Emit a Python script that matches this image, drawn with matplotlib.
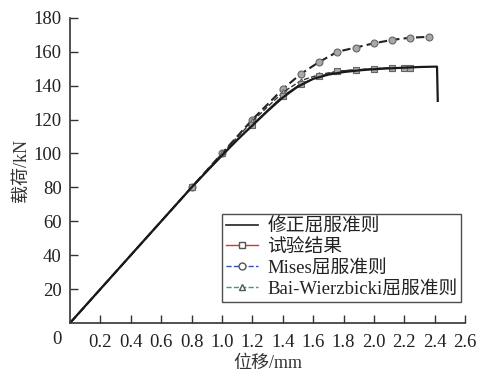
import matplotlib
matplotlib.use("Agg")
import matplotlib.pyplot as plt
from matplotlib.lines import Line2D

plt.rcParams['font.family'] = ['Liberation Serif', 'Noto Sans CJK SC']

# 修正屈服准则 (solid)
x_fit = [0, 0.8, 1.0, 1.1, 1.2, 1.3, 1.4, 1.5, 1.6, 1.7, 1.8, 1.9, 2.0, 2.1, 2.2, 2.3, 2.4, 2.415, 2.42]
y_fit = [0, 80, 99, 108, 116.5, 125, 133, 139.5, 144, 146.5, 148, 149, 149.7, 150.2, 150.6, 151, 151.2, 151.2, 131]

# 试验结果 (squares)
x_test = [0, 0.8, 1.2, 1.4, 1.52, 1.64, 1.76, 1.88, 2.0, 2.12, 2.2, 2.24]
y_test = [0, 80, 117, 134, 141, 145.5, 148.5, 149.3, 150, 150.5, 150.5, 150.5]

# Mises屈服准则 (circles)
x_mises = [0, 0.8, 1.0, 1.2, 1.4, 1.52, 1.64, 1.76, 1.88, 2.0, 2.12, 2.24, 2.36]
y_mises = [0, 80, 100, 120, 138, 147, 154, 160, 162.5, 165, 167, 168.3, 168.8]

# Bai-Wierzbicki屈服准则 (triangles)
x_bw = [0, 0.8, 1.0, 1.2, 1.4, 1.52, 1.64, 1.76, 1.88, 2.0, 2.12, 2.24]
y_bw = [0, 80, 100, 119, 136, 143, 146.5, 148.5, 149.3, 150, 150.5, 150.5]

labels = ['修正屈服准则', '试验结果', 'Mises屈服准则', 'Bai-Wierzbicki屈服准则']
xticks = [0.2, 0.4, 0.6, 0.8, 1.0, 1.2, 1.4, 1.6, 1.8, 2.0, 2.2, 2.4, 2.6]
yticks = [20, 40, 60, 80, 100, 120, 140, 160, 180]

fig = plt.figure(figsize=(4.8, 3.72), dpi=100)
ax = fig.add_axes([0.146, 0.132, 0.823, 0.820])

mk = dict(markersize=5, markerfacecolor='#a8a8a8', markeredgecolor='#666666', markeredgewidth=0.8)
ax.plot(x_mises, y_mises, '--', color='#222222', lw=1.5, dashes=(4, 2), marker='o',
        markevery=list(range(1, len(x_mises))), **mk)
ax.plot(x_bw, y_bw, '--', color='#333333', lw=1.0, marker='^', markevery=list(range(1, len(x_bw))), **mk)
ax.plot(x_test, y_test, '-', color='#333333', lw=1.0, marker='s', markevery=list(range(1, len(x_test))), **mk)
ax.plot(x_fit, y_fit, '-', color='#1a1a1a', lw=1.6)

ax.set_xlim(0, 2.6)
ax.set_ylim(0, 180)
ax.set_xticks(xticks)
ax.set_yticks(yticks)
ax.set_xticklabels(['%.1f' % v for v in xticks])
ax.set_yticklabels([str(v) for v in yticks])
for s in ['top', 'right']:
    ax.spines[s].set_visible(False)
for s in ['left', 'bottom']:
    ax.spines[s].set_linewidth(1.2)
    ax.spines[s].set_color('#333333')
ax.tick_params(direction='in', length=6, width=1, colors='#333333', labelsize=13.5, labelcolor='#222222')
ax.tick_params(axis='x', pad=8)
ax.tick_params(axis='y', pad=6)
ax.text(-0.086, -10, '0', ha='center', va='center', fontsize=13.5, color='#222222', clip_on=False)

ax.set_xlabel('位移/mm', fontsize=13, color='#333333', labelpad=3)
ax.set_ylabel('载荷/kN', fontsize=13, color='#333333', labelpad=3)

handles = [
    Line2D([], [], color='#222222', lw=1.2),
    Line2D([], [], color='#e03030', lw=1.0, marker='s', markersize=5, markerfacecolor='white', markeredgecolor='#555555'),
    Line2D([], [], color='#3050c0', lw=1.0, ls='--', marker='o', markersize=5, markerfacecolor='white', markeredgecolor='#555555'),
    Line2D([], [], color='#20a0a0', lw=1.0, ls='--', marker='^', markersize=5, markerfacecolor='white', markeredgecolor='#555555'),
]
leg = ax.legend(handles, labels, loc='lower right', bbox_to_anchor=(0.99, 0.07), fontsize=13.5,
                frameon=True, fancybox=False, edgecolor='#222222', handlelength=1.7,
                handletextpad=0.5, borderpad=0.2, labelspacing=0.2, borderaxespad=0.0)
leg.get_frame().set_linewidth(1.0)
for t in leg.get_texts():
    t.set_color('#222222')

fig.savefig('out.png', dpi=100)
